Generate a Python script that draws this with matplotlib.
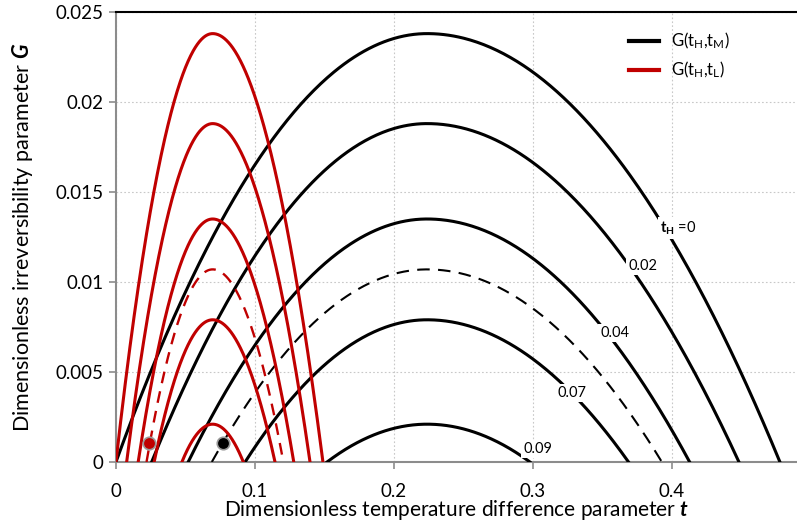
import matplotlib
matplotlib.use('Agg')
import matplotlib.pyplot as plt
import numpy as np

plt.rcParams['font.family'] = ['Lato', 'DejaVu Sans']
plt.rcParams['mathtext.fontset'] = 'custom'
plt.rcParams['mathtext.rm'] = 'Lato'
plt.rcParams['mathtext.it'] = 'Lato:italic'
plt.rcParams['mathtext.bf'] = 'Lato:bold'
plt.rcParams['mathtext.bfit'] = 'Lato:bold:italic'

# peak heights shared by both families (t_H = 0, 0.02, 0.04, dashed, 0.07, 0.09)
G_peak = [0.0238, 0.0188, 0.0135, 0.0107, 0.0079, 0.0021]
dashed = [False, False, False, True, False, False]

# G(t_H, t_M): zero crossings and location of the maximum
tM_start = [0.0, 0.0257, 0.052, 0.069, 0.093, 0.152]
tM_end = [0.478, 0.4485, 0.413, 0.393, 0.369, 0.298]
tM_peak = 0.224

# G(t_H, t_L)
tL_start = [0.0, 0.0077, 0.016, 0.022, 0.0275, 0.0475]
tL_end = [0.149, 0.1397, 0.128, 0.1205, 0.1145, 0.0917]
tL_peak = 0.0696

# operating points
pt_red = (0.024, 0.00104)
pt_black = (0.0773, 0.00104)

# curve labels
lab_text = [r'$\mathbf{t_H}$ =0', '0.02', '0.04', '0.07', '0.09']
lab_t = [0.4046, 0.3794, 0.3593, 0.3283, 0.3038]
lab_G = [0.0130, 0.01089, 0.00717, 0.00383, 0.00072]


def arch(a, b, tp, gp):
    t = np.linspace(a, b, 400)
    w = np.where(t <= tp, tp - a, b - tp)
    return t, gp * (1 - ((t - tp) / w) ** 2)


fig = plt.figure(figsize=(7.97, 5.29), dpi=100)
ax = fig.add_axes([0.1455, 0.1267, 0.8545, 0.8506])

for a, b, g, d in zip(tM_start, tM_end, G_peak, dashed):
    t, G = arch(a, b, tM_peak, g)
    ax.plot(t, G, color='black', lw=1.5 if d else 2.2,
            ls=(0, (6, 4)) if d else '-', zorder=3)

for a, b, g, d in zip(tL_start, tL_end, G_peak, dashed):
    t, G = arch(a, b, tL_peak, g)
    ax.plot(t, G, color='#C00000', lw=1.7 if d else 2.2,
            ls=(0, (5, 3.5)) if d else '-', zorder=4)

ax.plot(*pt_red, 'o', color='#C00000', markersize=9, mec='#9a9a9a', mew=1.2, zorder=6)
ax.plot(*pt_black, 'o', color='black', markersize=9, mec='#9a9a9a', mew=1.2, zorder=6)

for s, x, y in zip(lab_text, lab_t, lab_G):
    ax.text(x, y, s, fontsize=10.5, ha='center', va='center', zorder=7,
            bbox=dict(facecolor='white', edgecolor='none', pad=1.5))

ax.plot([], [], color='black', lw=3, label=r'G(t$_\mathregular{H}$,t$_\mathregular{M}$)')
ax.plot([], [], color='#C00000', lw=3, label=r'G(t$_\mathregular{H}$,t$_\mathregular{L}$)')
h, l = ax.get_legend_handles_labels()
ax.legend(h[-2:], l[-2:], loc='upper left', bbox_to_anchor=(0.753, 0.958), frameon=False,
          borderpad=0, borderaxespad=0, fontsize=12, handlelength=1.8,
          handletextpad=0.75, labelspacing=0.5)

ax.set_xlim(0, 0.4903)
ax.set_ylim(0, 0.025)
ax.set_xticks([0, 0.1, 0.2, 0.3, 0.4])
ax.set_xticklabels(['0', '0.1', '0.2', '0.3', '0.4'])
ax.set_yticks([0, 0.005, 0.01, 0.015, 0.02, 0.025])
ax.set_yticklabels(['0', '0.005', '0.01', '0.015', '0.02', '0.025'])
ax.tick_params(labelsize=13.5, color='#8c8c8c', length=5, width=1.2)
ax.tick_params(axis='x', pad=10)
ax.tick_params(axis='y', pad=4)
ax.grid(True, color='#c8c8c8', ls=(0, (1.5, 2)), lw=0.8)
ax.set_axisbelow(True)

for s in ['left', 'bottom']:
    ax.spines[s].set_color('#8c8c8c')
    ax.spines[s].set_linewidth(1.5)
ax.spines['top'].set_color('black')
ax.spines['top'].set_linewidth(1.5)
ax.spines['right'].set_visible(False)

ax.set_xlabel(r'Dimensionless temperature difference parameter $\mathbfit{t}$', fontsize=15, labelpad=-1)
ax.set_ylabel(r'Dimensionless irreversibility parameter $\mathbfit{G}$', fontsize=15.5, labelpad=15)

fig.savefig('out.png', dpi=100)
